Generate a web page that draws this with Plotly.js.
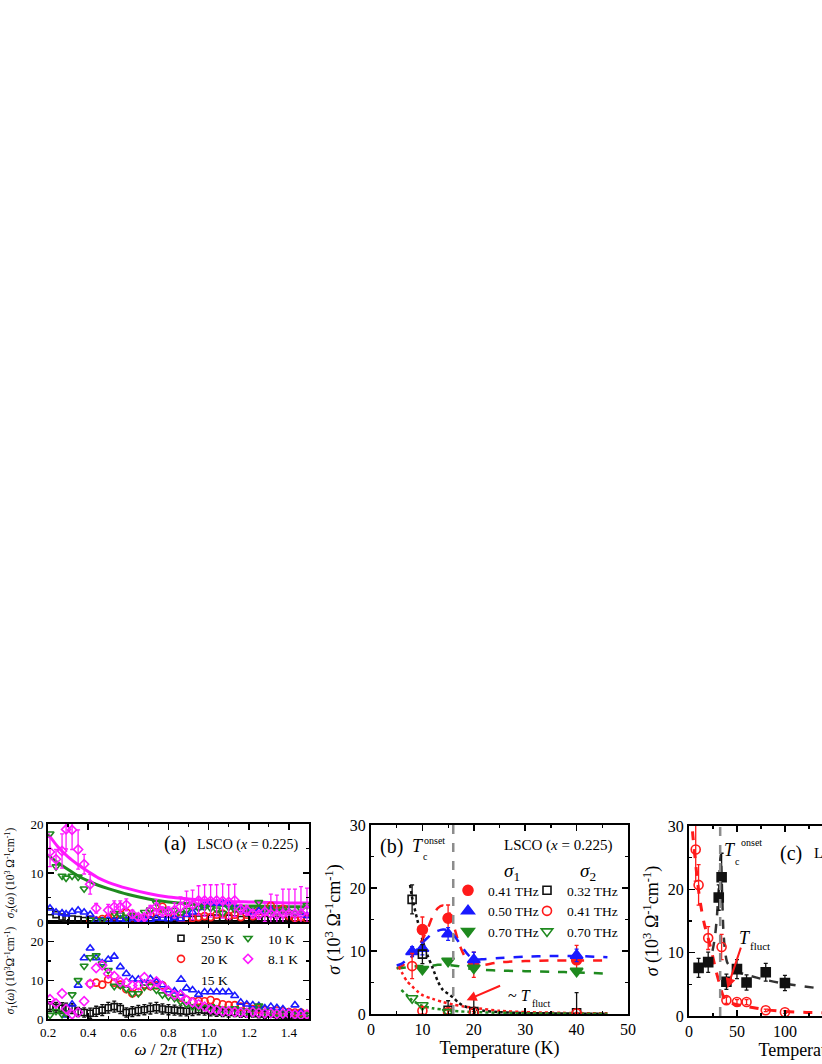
<!DOCTYPE html>
<html>
<head>
<meta charset="utf-8">
<script src="https://cdn.plot.ly/plotly-3.0.1.min.js"></script>
<style>
  html, body { margin: 0; padding: 0; background: #ffffff; overflow: hidden; }
  #plot { width: 1000px; height: 1064px; }
</style>
</head>
<body>
<div id="plot"></div>
<script>
// ---------------- DATA ----------------
// Panel (a): frequency grid (THz)
const freqA = [0.21,0.24,0.27,0.29,0.32,0.35,0.38,0.41,0.44,0.47,0.50,0.53,0.56,0.59,0.62,0.65,0.68,0.71,0.74,0.77,0.80,0.83,0.86,0.89,0.92,0.95,0.98,1.01,1.04,1.07,1.10,1.13,1.16,1.19,1.22,1.25,1.28,1.31,1.34,1.37,1.40,1.43,1.46,1.49];

// sigma2 (top panel), 10^3 Ohm^-1 cm^-1
const s2_250K = [2.1,1.5,1.0,0.8,0.6,0.5,0.3,0.2,0.1,0.2,0.1,0.2,0.3,0.2,0.3,0.2,0.3,0.4,0.3,0.4,0.5,0.4,0.5,0.6,0.5,0.6,0.7,0.8,0.8,0.7,0.8,0.6,0.5,0.6,0.5,0.4,0.5,0.4,0.5,0.3,0.4,0.3,0.4,0.3];
const s2_20K  = [null,null,null,null,null,null,null,0.5,0.3,0.6,0.8,1.2,1.5,2.0,1.0,0.5,0.8,1.5,2.0,3.1,2.0,1.2,0.8,0.6,0.8,1.0,1.2,1.0,1.5,1.7,1.2,1.5,1.0,1.5,1.2,2.2,2.0,3.3,2.2,2.7,1.2,0.8,1.0,0.6];
const s2_15K  = [2.8,2.0,1.8,1.6,2.1,2.4,2.0,1.5,0.3,0.2,0.5,0.3,0.6,0.4,0.8,0.5,0.6,0.5,0.8,0.7,0.6,0.9,0.6,1.5,2.0,2.9,3.4,3.7,3.8,3.9,3.5,3.0,2.5,2.2,2.0,2.3,2.1,2.5,2.0,2.1,2.1,1.9,1.9,1.3];
const s2_10K  = [18.0,11.3,9.4,9.0,9.4,9.2,6.8,0.4,null,0.3,null,1.8,1.5,1.0,1.4,0.8,2.0,2.5,3.9,2.5,2.0,2.4,1.7,2.4,3.1,2.8,3.0,2.8,2.5,1.8,3.0,2.5,2.3,2.8,3.0,4.0,2.6,2.2,2.0,2.3,2.0,1.8,2.6,3.4];
const s2_8K   = [14.3,12.8,14.5,18.9,18.8,14.8,11.8,7.7,2.8,null,2.4,3.1,3.1,3.5,1.6,1.0,1.0,2.4,3.1,2.1,2.1,2.4,3.1,3.8,3.5,4.4,4.4,4.3,4.4,4.3,4.1,4.4,2.6,2.4,1.7,1.5,2.1,1.7,1.5,1.7,1.7,1.7,1.7,2.4];
const s2_8K_err = [3,2,3.5,4,4,4,2,2,1,null,1.2,1.2,1.2,1.2,0.8,0.5,0.5,1,1.5,1,1,1.5,2,2.5,3,3,3.2,3.3,3.2,3.5,3.5,3.3,1,1,0.8,0.8,2,4,4,5,5,5,5.5,4.5];

// sigma1 (bottom panel)
const s1_250K = [3.2,3.0,2.8,2.8,2.7,1.8,1.7,1.5,2.0,2.3,2.9,3.2,2.7,1.7,1.9,2.2,2.4,2.7,2.9,2.6,2.4,2.3,2.1,2.0,2.2,2.4,2.3,2.1,1.9,1.8,1.7,1.8,1.6,1.5,1.6,1.4,1.3,1.5,1.2,1.1,1.0,1.2,0.9,0.8];
const s1_250K_err = [1.3,1.3,1.4,1.3,1.3,1.2,1.2,1.3,1.3,1.4,1.4,1.4,1.3,1.2,1.3,1.3,1.3,1.4,1.4,1.3,1.3,1.3,1.3,1.2,1.3,1.3,1.3,1.3,1.2,1.2,1.2,1.2,1.2,1.1,1.1,1.1,1.1,1.1,1.0,1.0,1.0,1.0,1.0,1.0];
const s1_20K  = [null,null,null,null,null,null,null,9.1,9.4,8.9,10.3,9.4,8.9,7.7,6.6,7.0,8.9,8.5,8.7,8.7,7.0,6.2,5.5,5.0,4.6,4.7,4.6,4.9,4.3,3.8,3.6,3.6,3.2,3.2,2.6,2.5,2.3,2.0,2.2,2.0,1.8,1.7,1.7,1.2];
const s1_15K  = [null,null,null,1.0,3.8,8.7,15.8,18.3,15.8,14.5,15.4,16.2,13.5,11.7,10.3,10.3,9.2,10.4,9.6,8.8,7.5,7.2,6.6,8.0,7.5,6.3,7.0,7.0,7.0,7.0,7.0,6.0,4.3,3.8,3.6,3.4,2.8,3.2,2.9,2.6,1.7,3.6,1.7,null];
const s1_10K  = [1.0,2.0,1.2,1.5,6.3,10.0,13.7,15.9,16.4,14.3,12.6,8.5,8.7,7.8,6.6,6.6,8.3,8.5,7.5,6.3,5.8,5.4,4.5,3.8,3.2,3.0,3.0,3.2,2.8,2.5,2.5,2.7,2.2,2.0,2.3,3.4,2.0,1.8,1.5,1.7,1.2,1.0,1.0,1.2];
const s1_8K   = [5.1,4.0,6.6,2.6,1.2,1.7,4.6,9.1,13.2,13.9,11.7,11.1,9.6,9.4,8.7,8.7,10.8,8.9,9.7,8.5,7.2,6.2,6.2,4.9,4.3,3.8,3.2,2.6,2.3,2.0,2.0,1.8,1.7,1.6,1.8,1.6,1.5,1.5,1.3,1.4,1.3,1.2,1.0,1.2];

// sigma2 fit curves (top panel)
const fitFreqA = [0.2,0.25,0.3,0.35,0.4,0.45,0.5,0.6,0.7,0.8,0.9,1.0,1.1,1.2,1.3,1.4,1.5];
const fit8K    = [18.0,15.3,13.3,11.7,10.3,9.0,8.1,6.8,5.8,5.1,4.7,4.4,4.2,4.1,4.0,3.9,3.9];
const fit10K   = [13.6,12.1,10.7,9.4,8.4,7.5,6.8,5.6,4.7,4.1,3.7,3.5,3.3,3.2,3.2,3.1,3.1];

const legendA = ["250 K","20 K","15 K","10 K","8.1 K"];

// Panel (b): temperature dependence
const tempB = [8, 10, 15, 20, 40];
const b_s1_041 = [null, 13.4, 15.2, 7.8, 8.6];
const b_s1_041_err = [null, 2.0, 2.1, 2.0, 2.3];
const b_s1_050 = [9.9, 10.4, 12.7, 8.6, 9.3];
const b_s1_050_err = [0.8, 1.0, 1.0, 1.2, 1.0];
const b_s1_070 = [null, 7.1, 8.4, 7.3, 6.8];
const b_s2_032 = [18.2, 9.5, 0.6, 0.4, 0.2];
const b_s2_032_err = [2.3, 1.5, 1.5, 2.3, 3.2];
const b_s2_041 = [7.6, 0.5, 0.3, 0.2, 0.1];
const b_s2_041_err = [2.0, 0.5, 0.3, 0.2, 0.1];
const b_s2_070 = [2.5, 1.4, 0.3, null, null];

const fitTempB = [5,6,7,8,9,10,11,12,13,14,15,16,17,18,19,20,22,25,30,35,40,46];
const fitB_s1_041 = [7.2,7.6,8.3,9.2,10.4,11.8,13.5,15.5,16.8,17.2,16.4,14.3,11.5,9.5,8.2,7.6,7.8,8.2,8.4,8.5,8.5,8.5];
const fitB_s1_050 = [7.7,8.0,8.6,9.3,10.3,11.3,12.1,12.8,13.2,13.4,13.3,12.6,11.5,10.3,9.3,8.7,8.7,8.9,9.1,9.2,9.2,9.0];
const fitB_s1_070 = [7.3,7.3,7.4,7.5,7.6,7.6,7.7,7.7,7.8,7.8,7.8,7.7,7.6,7.4,7.2,7.1,7.0,6.9,6.8,6.7,6.6,6.4];
const fitTempB_032 = [7.6,8,9,10,11,12,13,14,15,16,17,18,20,22,25,30,35,40,46];
const fitB_s2_032 = [20.5,18.5,15.0,11.8,9.3,7.3,5.2,3.8,3.2,2.6,1.8,1.3,0.8,0.5,0.3,0.15,0.1,0.05,0.03];
const fitTempB_041 = [5.4,6,7,8,9,10,12,14,16,18,20,25,30,40,46];
const fitB_s2_041 = [7.5,6.6,5.2,4.4,3.6,3.0,2.4,1.9,1.5,1.2,1.0,0.5,0.3,0.15,0.1];
const fitTempB_070 = [5.9,7,8,9,10,12,14,16,20,25,30,46];
const fitB_s2_070 = [3.8,3.0,2.2,1.7,1.3,0.9,0.7,0.5,0.3,0.2,0.1,0.05];
const TcOnsetB = 16;
const TfluctB = [18.6, 2.2];

// Panel (c)
const tempC_s1 = [10, 20, 31, 34, 39, 50, 60, 80, 100];
const c_s1 = [7.6, 8.5, 18.7, 21.9, 5.4, 7.4, 5.3, 6.9, 5.2];
const c_s1_err = [1.5, 1.6, 2.0, 3.8, 1.2, 1.5, 1.2, 1.4, 1.2];
const tempC_s2 = [7, 10, 20, 34, 39, 50, 60, 80, 100];
const c_s2 = [26.3, 20.7, 12.3, 10.9, 2.5, 2.2, 2.2, 0.9, 0.6];
const c_s2_err = [5.0, 3.2, 1.8, 2.0, 0.5, 0.4, 0.4, 0.2, 0.2];
const fitTempC_s2 = [2,3,4,6,8,10,13,16,20,24,28,32,35,38,42,50,60,80,100,140,200,270];
const fitC_s2 = [32,30.5,28.5,25.5,22.5,19.8,16.8,14.5,12.3,9.9,7.2,5.0,3.4,2.6,2.1,1.8,1.5,1.0,0.7,0.5,0.4,0.3];
const fitTempC_s1 = [16,20,24,27,29,31,32,33,34,35,36,38,40,45,50,60,80,100,140,200,270];
const fitC_s1 = [7.8,8.6,10.0,12.5,15.5,20.0,23.0,25.5,22.0,17.0,13.0,9.8,8.4,7.5,7.0,6.5,5.7,5.1,4.3,3.5,3.0];
const TcOnsetC = 32.5;
const TfluctC = [40, 4.4];

// ---------------- STYLE ----------------
const W = 1000, H = 1064;
const FONT = "Liberation Serif, Times New Roman, serif";
const RED = "#ff1a1a", BLUE = "#1a1aff", GREEN = "#1f8a1f", MAG = "#ff19ff", BLK = "#111111", GRAY = "#8c8c8c";
const px = (a, b) => [a / W, b / W];
const py = (top, bottom) => [1 - bottom / H, 1 - top / H];

function pts(x, y, name, color, symbol, size, xa, ya, extra) {
  const t = {
    type: "scatter", mode: "markers", x: x, y: y, name: name,
    xaxis: xa, yaxis: ya, showlegend: false,
    marker: { symbol: symbol, size: size, color: color, line: { color: color, width: 1.6 } }
  };
  return Object.assign(t, extra || {});
}
function fit(x, y, color, dash, width, xa, ya) {
  return { type: "scatter", mode: "lines", x: x, y: y, xaxis: xa, yaxis: ya, showlegend: false, hoverinfo: "skip",
    line: { color: color, width: width, dash: dash, shape: "spline", smoothing: 0.8 } };
}
function err(arr, color, minus) {
  const e = { type: "data", array: arr, visible: true, color: color, thickness: 1.3, width: 2 };
  if (minus) { e.symmetric = false; e.arrayminus = minus; }
  return e;
}

const traces = [];
// panel a top (x2,y2)
traces.push(fit(fitFreqA, fit8K, MAG, "solid", 3, "x2", "y2"));
traces.push(fit(fitFreqA, fit10K, GREEN, "solid", 3, "x2", "y2"));
traces.push(pts(freqA, s2_250K, "250 K", BLK, "square-open", 6, "x2", "y2"));
traces.push(pts(freqA, s2_20K, "20 K", RED, "circle-open", 7, "x2", "y2"));
traces.push(pts(freqA, s2_15K, "15 K", BLUE, "triangle-up-open", 7, "x2", "y2"));
traces.push(pts(freqA, s2_10K, "10 K", GREEN, "triangle-down-open", 7, "x2", "y2"));
traces.push(pts(freqA, s2_8K, "8.1 K", MAG, "diamond-open", 7, "x2", "y2", { error_y: err(s2_8K_err, MAG) }));
// panel a bottom (x,y)
traces.push(pts(freqA, s1_250K, legendA[0], BLK, "square-open", 6, "x", "y", { showlegend: true, legend: "legend", error_y: err(s1_250K_err, BLK) }));
traces.push(pts(freqA, s1_20K, legendA[1], RED, "circle-open", 7, "x", "y", { showlegend: true, legend: "legend" }));
traces.push(pts(freqA, s1_15K, legendA[2], BLUE, "triangle-up-open", 7, "x", "y", { showlegend: true, legend: "legend" }));
traces.push(pts(freqA, s1_10K, legendA[3], GREEN, "triangle-down-open", 7, "x", "y", { showlegend: true, legend: "legend2" }));
traces.push(pts(freqA, s1_8K, legendA[4], MAG, "diamond-open", 7, "x", "y", { showlegend: true, legend: "legend2" }));

// panel b (x3,y3)
traces.push(fit(fitTempB, fitB_s1_041, RED, "dash", 2.5, "x3", "y3"));
traces.push(fit(fitTempB, fitB_s1_050, BLUE, "dash", 2.5, "x3", "y3"));
traces.push(fit(fitTempB, fitB_s1_070, GREEN, "dash", 2.5, "x3", "y3"));
traces.push(fit(fitTempB_032, fitB_s2_032, BLK, "dot", 2.5, "x3", "y3"));
traces.push(fit(fitTempB_041, fitB_s2_041, RED, "dot", 2.5, "x3", "y3"));
traces.push(fit(fitTempB_070, fitB_s2_070, GREEN, "dot", 2.5, "x3", "y3"));
traces.push(pts(tempB, b_s1_041, "0.41 THz", RED, "circle", 10, "x3", "y3", { showlegend: true, legend: "legend3", error_y: err(b_s1_041_err, RED) }));
traces.push(pts(tempB, b_s1_050, "0.50 THz", BLUE, "triangle-up", 11, "x3", "y3", { showlegend: true, legend: "legend3", error_y: err(b_s1_050_err, BLUE) }));
traces.push(pts(tempB, b_s1_070, "0.70 THz", GREEN, "triangle-down", 11, "x3", "y3", { showlegend: true, legend: "legend3" }));
traces.push(pts(tempB, b_s2_032, "0.32 THz", BLK, "square-open", 8, "x3", "y3", { showlegend: true, legend: "legend4", error_y: err(b_s2_032_err, BLK) }));
traces.push(pts(tempB, b_s2_041, "0.41 THz", RED, "circle-open", 9, "x3", "y3", { showlegend: true, legend: "legend4", error_y: err(b_s2_041_err, RED) }));
traces.push(pts(tempB, b_s2_070, "0.70 THz", GREEN, "triangle-down-open", 10, "x3", "y3", { showlegend: true, legend: "legend4" }));

// panel c (x4,y4)
traces.push(fit(fitTempC_s2, fitC_s2, RED, "dash", 3, "x4", "y4"));
traces.push(fit(fitTempC_s1, fitC_s1, "#333333", "dash", 2.5, "x4", "y4"));
traces.push(pts(tempC_s1, c_s1, "σ1", BLK, "square", 9, "x4", "y4", { error_y: err(c_s1_err, BLK) }));
traces.push(pts(tempC_s2, c_s2, "σ2", RED, "circle-open", 9, "x4", "y4", { error_y: err(c_s2_err, RED) }));

function axis(extra) {
  return Object.assign({
    showline: true, linecolor: "#000", linewidth: 2, mirror: "allticks",
    ticks: "inside", ticklen: 6, tickwidth: 1.5, tickcolor: "#000",
    showgrid: false, zeroline: false, fixedrange: true,
    tickfont: { family: FONT, size: 16, color: "#000" }
  }, extra);
}
const tfont = (s) => ({ family: FONT, size: s, color: "#000" });

const layout = {
  width: W, height: H, margin: { l: 0, r: 0, t: 0, b: 0 },
  paper_bgcolor: "#ffffff", plot_bgcolor: "rgba(0,0,0,0)",
  font: { family: FONT, color: "#000" },
  xaxis: axis({ domain: px(48, 309), range: [0.2, 1.5], anchor: "y", dtick: 0.2, tick0: 0.2, tickformat: ".1f",
    minor: { dtick: 0.1, ticklen: 3, tickwidth: 1.2, ticks: "inside", tickcolor: "#000" },
    tickfont: tfont(13),
    title: { text: "<i>ω</i> / 2<i>π</i> (THz)", font: tfont(17), standoff: 4 } }),
  yaxis: axis({ domain: py(922, 1019), range: [0, 25.1], anchor: "x", dtick: 10,
    minor: { dtick: 5, ticklen: 3, tickwidth: 1.2, ticks: "inside", tickcolor: "#000" },
    tickfont: tfont(13),
    title: { text: "<i>σ</i><sub>1</sub>(<i>ω</i>) (10<sup>3</sup>Ω<sup>-1</sup>cm<sup>-1</sup>)", font: tfont(11.5), standoff: 13 } }),
  xaxis2: axis({ domain: px(48, 309), range: [0.2, 1.5], anchor: "y2", matches: "x", showticklabels: false, dtick: 0.2, tick0: 0.2,
    minor: { dtick: 0.1, ticklen: 3, tickwidth: 1.2, ticks: "inside", tickcolor: "#000" } }),
  yaxis2: axis({ domain: py(824, 922), range: [0, 20], anchor: "x2", dtick: 10,
    minor: { dtick: 5, ticklen: 3, tickwidth: 1.2, ticks: "inside", tickcolor: "#000" },
    tickfont: tfont(13),
    title: { text: "<i>σ</i><sub>2</sub>(<i>ω</i>) (10<sup>3</sup> Ω<sup>-1</sup>cm<sup>-1</sup>)", font: tfont(11.5), standoff: 13 } }),
  xaxis3: axis({ domain: px(371, 628), range: [0, 50], anchor: "y3", dtick: 10,
    minor: { dtick: 5, ticklen: 3, tickwidth: 1.2, ticks: "inside", tickcolor: "#000" },
    title: { text: "Temperature (K)", font: tfont(18), standoff: 4 } }),
  yaxis3: axis({ domain: py(825, 1014), range: [0, 30], anchor: "x3", dtick: 10,
    minor: { dtick: 5, ticklen: 3, tickwidth: 1.2, ticks: "inside", tickcolor: "#000" },
    title: { text: "<i>σ</i> (10<sup>3</sup> Ω<sup>-1</sup>cm<sup>-1</sup>)", font: tfont(18), standoff: 4 } }),
  xaxis4: axis({ domain: px(689, 948), range: [0, 270], anchor: "y4", dtick: 50,
    minor: { dtick: 25, ticklen: 3, tickwidth: 1.2, ticks: "inside", tickcolor: "#000" },
    title: { text: "Temperature (K)", font: tfont(18), standoff: 4 } }),
  yaxis4: axis({ domain: py(826, 1016), range: [0, 30], anchor: "x4", dtick: 10,
    minor: { dtick: 5, ticklen: 3, tickwidth: 1.2, ticks: "inside", tickcolor: "#000" },
    title: { text: "<i>σ</i> (10<sup>3</sup> Ω<sup>-1</sup>cm<sup>-1</sup>)", font: tfont(18), standoff: 4 } }),
  legend: { x: 161 / W, y: 1 - 923 / H, xanchor: "left", yanchor: "top", bgcolor: "rgba(0,0,0,0)", font: tfont(13.5), itemwidth: 30, tracegroupgap: 0 },
  legend2: { x: 228 / W, y: 1 - 923 / H, xanchor: "left", yanchor: "top", bgcolor: "rgba(0,0,0,0)", font: tfont(13.5), itemwidth: 30, tracegroupgap: 0 },
  legend3: { x: 448 / W, y: 1 - 875 / H, xanchor: "left", yanchor: "top", bgcolor: "rgba(0,0,0,0)", font: tfont(13.5), itemwidth: 30, tracegroupgap: 0 },
  legend4: { x: 527 / W, y: 1 - 875 / H, xanchor: "left", yanchor: "top", bgcolor: "rgba(0,0,0,0)", font: tfont(13.5), itemwidth: 30, tracegroupgap: 0 },
  shapes: [
    { type: "line", xref: "x3", yref: "y3", x0: TcOnsetB, x1: TcOnsetB, y0: 0, y1: 30, line: { color: GRAY, width: 2.5, dash: "dash" } },
    { type: "line", xref: "x4", yref: "y4", x0: TcOnsetC, x1: TcOnsetC, y0: 0, y1: 30, line: { color: GRAY, width: 2.5, dash: "dash" } }
  ],
  annotations: []
};

function ann(text, x, y, size, anchor, extra) {
  return Object.assign({ text: text, xref: "paper", yref: "paper", x: x / W, y: 1 - y / H,
    xanchor: anchor || "center", yanchor: "middle", showarrow: false, font: tfont(size) }, extra || {});
}
const A = layout.annotations;
A.push(ann("(a)", 175, 843, 20));
A.push(ann("LSCO (<i>x</i> = 0.225)", 195, 845, 14, "left"));
A.push(ann("(b)", 391, 846, 20));
A.push(ann("<i>T</i>", 418, 846, 18));
A.push(ann("c", 425, 856, 10));
A.push(ann("onset", 434, 840, 10));
A.push(ann("LSCO (<i>x</i> = 0.225)", 558, 845, 15));
A.push(ann("<i>σ</i><sub>1</sub>", 512, 872, 19));
A.push(ann("<i>σ</i><sub>2</sub>", 588, 872, 19));
A.push(ann("~ <i>T</i>", 506, 995, 16, "left"));
A.push(ann("fluct", 530, 1003, 10, "left"));
A.push({ text: "", xref: "x3", yref: "y3", x: TfluctB[0], y: TfluctB[1], ax: 35, ay: -15, axref: "pixel", ayref: "pixel",
  showarrow: true, arrowcolor: RED, arrowwidth: 2, arrowhead: 2, arrowsize: 1 });
A.push(ann("(c)", 791, 853, 20));
A.push(ann("LSCO (<i>x</i> = 0.16)", 812, 853, 15, "left"));
A.push(ann("<i>T</i>", 730, 850, 18));
A.push(ann("c", 737, 861, 10));
A.push(ann("onset", 751, 842, 10));
A.push(ann("<i>T</i>", 745, 938, 18));
A.push(ann("fluct", 760, 946, 11));
A.push({ text: "", xref: "x4", yref: "y4", x: TfluctC[0], y: TfluctC[1], ax: 14, ay: -42, axref: "pixel", ayref: "pixel",
  showarrow: true, arrowcolor: RED, arrowwidth: 2, arrowhead: 2, arrowsize: 1 });

Plotly.newPlot("plot", traces, layout, { staticPlot: true, displayModeBar: false });
</script>
</body>
</html>
